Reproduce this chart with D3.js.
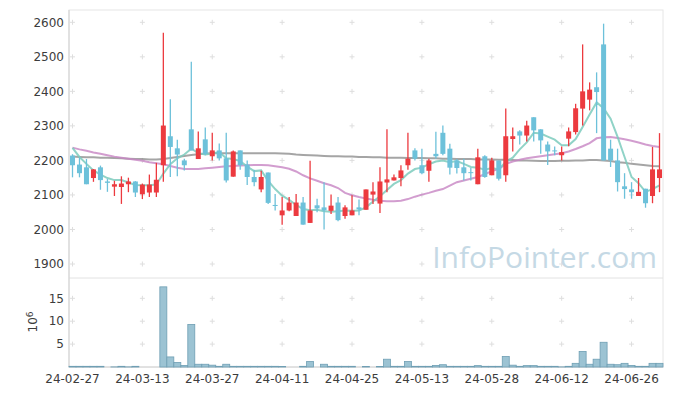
<!DOCTYPE html>
<html>
<head>
<meta charset="utf-8">
<script src="https://cdn.jsdelivr.net/npm/d3@7"></script>
<style>
body { margin: 0; background: #fff; }
text { font-family: "DejaVu Sans", sans-serif; }
</style>
</head>
<body>
<svg id="chart" width="673" height="396"></svg>
<script>
// trading days, 24-02-27 .. 24-07-02
var dates = ["24-02-27","24-02-28","24-02-29","24-03-04","24-03-05","24-03-06","24-03-07","24-03-08","24-03-11","24-03-12",
    "24-03-13","24-03-14","24-03-15","24-03-18","24-03-19","24-03-20","24-03-21","24-03-22","24-03-25","24-03-26",
    "24-03-27","24-03-28","24-03-29","24-04-01","24-04-02","24-04-03","24-04-04","24-04-05","24-04-08","24-04-09",
    "24-04-11","24-04-12","24-04-15","24-04-16","24-04-17","24-04-18","24-04-19","24-04-22","24-04-23","24-04-24",
    "24-04-25","24-04-26","24-04-29","24-04-30","24-05-02","24-05-03","24-05-07","24-05-08","24-05-09","24-05-10",
    "24-05-13","24-05-14","24-05-16","24-05-17","24-05-20","24-05-21","24-05-22","24-05-23","24-05-24","24-05-27",
    "24-05-28","24-05-29","24-05-30","24-05-31","24-06-03","24-06-04","24-06-05","24-06-07","24-06-10","24-06-11",
    "24-06-12","24-06-13","24-06-14","24-06-17","24-06-18","24-06-19","24-06-20","24-06-21","24-06-24","24-06-25",
    "24-06-26","24-06-27","24-06-28","24-07-01","24-07-02"];

var opens = [2214,2188,2180,2149,2180,2139,2124,2123,2131,2139, 2102,2107,2107,2186,2270,2235,2200,2290,2204,2261,
    2212,2229,2206,2153,2229,2188,2152,2116,2165,2071, 2041,2055,2039,2078,2019,2070,2064,2054,2078,2039,
    2041,2064,2057,2101,2075,2136,2142,2149,2186,2229, 2186,2170,2219,2280,2234,2200,2180,2166,2131,2212,
    2157,2200,2157,2262,2284,2272,2325,2290,2246,2229, 2215,2263,2282,2350,2376,2412,2536,2234,2200,2125,
    2116,2097,2118,2097,2149];
var highs = [2218,2208,2204,2175,2185,2146,2141,2154,2150,2140, 2133,2159,2193,2570,2377,2260,2205,2486,2284,2295,
    2280,2249,2280,2229,2229,2200,2173,2170,2165,2103, 2094,2094,2103,2094,2199,2089,2137,2101,2094,2070,
    2099,2087,2116,2137,2180,2290,2159,2186,2280,2235, 2234,2205,2283,2301,2248,2204,2205,2178,2234,2215,
    2208,2200,2350,2295,2287,2315,2325,2290,2255,2240, 2240,2295,2364,2536,2426,2455,2596,2260,2234,2163,
    2137,2149,2118,2239,2279];
var lows = [2151,2151,2131,2138,2115,2109,2097,2074,2108,2094, 2088,2094,2094,2138,2152,2154,2171,2229,2204,2215,
    2200,2200,2136,2153,2173,2129,2125,2108,2074,2055, 2014,2053,2039,2014,2019,2050,2000,2045,2024,2031,
    2041,2041,2057,2074,2048,2108,2142,2125,2173,2200, 2160,2138,2205,2215,2159,2162,2142,2142,2131,2150,
    2157,2142,2138,2226,2246,2255,2255,2219,2187,2215, 2200,2241,2275,2301,2345,2279,2200,2181,2110,2089,
    2089,2097,2063,2076,2108];
var closes = [2186,2163,2131,2174,2143,2135,2131,2133,2139,2107, 2130,2130,2144,2301,2239,2217,2186,2229,2235,2219,
    2229,2206,2142,2226,2186,2152,2137,2152,2077,2068, 2055,2078,2078,2014,2055,2061,2055,2069,2027,2064,
    2055,2058,2116,2110,2139,2145,2151,2171,2205,2205, 2163,2200,2212,2219,2179,2178,2163,2164,2209,2152,
    2200,2147,2270,2270,2272,2301,2287,2258,2226,2227, 2224,2284,2351,2400,2405,2398,2200,2200,2137,2117,
    2108,2109,2076,2174,2174];

// volume, millions of shares
var volumes = [0.15,0.15,0.15,0.15,0.15,0,0.02,0.15,0.02,0.15, 0,0,0,17.5,2.2,1.0,0.35,9.3,0.6,0.6,
    0.4,0.15,0.6,0.15,0.15,0.15,0.15,0.15,0.15,0.15, 0.1,0,0,0.15,1.2,0,0.6,0.15,0.15,0.15,
    0.15,0,0.1,0,0.1,1.7,0.15,0.15,1.2,0.15, 0.15,0.15,0.35,0.5,0.15,0.15,0.15,0.15,0.3,0.15,
    0.15,0.15,2.3,0.4,0.15,0.3,0.3,0.15,0.15,0.15, 0.02,0.15,0.8,3.4,0.6,1.7,5.4,0.6,0.5,0.8,
    0.35,0.15,0.15,0.8,0.8];

// moving averages
var ma5 = [2236,2210,2190,2171,2159,2149,2143,2143,2136,2129, 2128,2128,2130,2162,2189,2206,2217,2234,2221,2217,
    2220,2224,2206,2204,2198,2182,2169,2171,2141,2117, 2098,2086,2071,2059,2056,2057,2053,2051,2053,2055,
    2054,2055,2064,2081,2096,2114,2132,2143,2162,2175, 2179,2189,2197,2200,2195,2198,2190,2181,2179,2173,
    2178,2174,2196,2208,2232,2252,2280,2278,2269,2260, 2244,2244,2262,2297,2333,2368,2351,2321,2268,2210,
    2152,2134,2109,2117,2128];
var ma20 = [2237,2232,2228,2223,2219,2215,2211,2208,2205,2202, 2199,2195,2192,2189,2184,2179,2175,2175,2175,2177,
    2179,2181,2183,2184,2185,2186,2187,2187,2186,2183, 2180,2176,2168,2157,2148,2141,2134,2128,2120,2106,
    2099,2094,2090,2086,2083,2082,2082,2083,2088,2095, 2101,2106,2112,2117,2127,2137,2142,2147,2152,2160,
    2169,2175,2190,2197,2202,2206,2209,2212,2215,2218, 2221,2226,2233,2241,2250,2264,2267,2268,2265,2261,
    2257,2252,2246,2242,2239];
var ma60 = [2211,2210,2209,2209,2208,2208,2207,2206,2205,2204, 2204,2203,2203,2204,2207,2210,2213,2216,2218,2220,
    2221,2221,2221,2221,2221,2221,2221,2221,2221,2221, 2220,2219,2217,2216,2215,2214,2213,2212,2212,2211,
    2211,2210,2210,2209,2209,2208,2208,2208,2207,2207, 2207,2206,2206,2205,2205,2204,2204,2204,2203,2203,
    2203,2202,2202,2201,2200,2200,2199,2198,2198,2198, 2199,2199,2200,2200,2201,2201,2200,2198,2195,2193,
    2190,2188,2186,2184,2183];

var tickDates = ["24-02-27","24-03-13","24-03-27","24-04-11","24-04-25","24-05-13","24-05-28","24-06-12","24-06-26"];
var priceTicks = [1900,2000,2100,2200,2300,2400,2500,2600];
var volumeTicks = [5,10,15];

var svg = d3.select("#chart");
var left = 69, right = 663,
    mainTop = 10, mainBottom = 278,
    volTop = 278, volBottom = 367;

var x = d3.scaleBand().domain(dates).range([left, right]).padding(0);
var bw = x.bandwidth();
function cx(i) { return x(dates[i]) + bw / 2; }

var y = d3.scaleLinear().domain([1900, 2600]).range([264, 22.3]);
var yv = d3.scaleLinear().domain([0, 15]).range([volBottom, 298.3]);

var upColor = "#ec3a3f", downColor = "#6dc1da";

// frame
svg.append("rect").attr("x", left).attr("y", mainTop)
    .attr("width", right - left).attr("height", volBottom - mainTop)
    .attr("fill", "none").attr("stroke", "#e6e6e6");
svg.append("line").attr("x1", left).attr("x2", right).attr("y1", volTop).attr("y2", volTop)
    .attr("stroke", "#e2e2e2");
svg.append("line").attr("x1", left).attr("x2", left).attr("y1", mainTop).attr("y2", volBottom)
    .attr("stroke", "#d0d0d0");
svg.append("line").attr("x1", left).attr("x2", right).attr("y1", volBottom).attr("y2", volBottom)
    .attr("stroke", "#d0d0d0");

// grid crosses
var gx = tickDates.map(function(d) { return x(d) + bw / 2; });
var crosses = [];
gx.forEach(function(px) {
    priceTicks.forEach(function(p) { crosses.push([px, y(p)]); });
    volumeTicks.forEach(function(v) { crosses.push([px, yv(v)]); });
});
svg.append("g").selectAll("path").data(crosses).enter().append("path")
    .attr("d", function(d) { return "M" + (d[0] - 2.5) + "," + d[1] + "h5M" + d[0] + "," + (d[1] - 2.5) + "v5"; })
    .attr("stroke", "#dedede").attr("stroke-width", 1);

// watermark
svg.append("text").attr("x", 657).attr("y", 268).attr("text-anchor", "end")
    .style("font-family", "'Open Sans', sans-serif").style("font-size", "30px")
    .attr("fill", "#c5d9e5").text("InfoPointer.com");

// moving average lines
var line = function(arr) {
    return d3.line().x(function(d, i) { return cx(i); }).y(function(d) { return y(d); })(arr);
};
svg.append("path").attr("d", line(ma60)).attr("fill", "none")
    .attr("stroke", "#8f8f8f").attr("stroke-width", 2).attr("stroke-opacity", 0.8);
svg.append("path").attr("d", line(ma20)).attr("fill", "none")
    .attr("stroke", "#c784c3").attr("stroke-width", 2).attr("stroke-opacity", 0.8);
svg.append("path").attr("d", line(ma5)).attr("fill", "none")
    .attr("stroke", "#7ccbbd").attr("stroke-width", 2).attr("stroke-opacity", 0.85);

// candles
var candles = dates.map(function(d, i) {
    return { date: d, o: opens[i], h: highs[i], l: lows[i], c: closes[i], v: volumes[i] };
});
var cg = svg.append("g").selectAll("g").data(candles).enter().append("g");
cg.append("line")
    .attr("x1", function(d, i) { return cx(i); })
    .attr("x2", function(d, i) { return cx(i); })
    .attr("y1", function(d) { return y(d.h); })
    .attr("y2", function(d) { return y(d.l); })
    .attr("stroke", function(d) { return d.c >= d.o ? upColor : downColor; })
    .attr("stroke-width", 1.3);
cg.append("rect")
    .attr("x", function(d, i) { return cx(i) - 2.5; })
    .attr("width", 5)
    .attr("y", function(d) { return y(Math.max(d.o, d.c)); })
    .attr("height", function(d) { return Math.max(1, Math.abs(y(d.o) - y(d.c))); })
    .attr("fill", function(d) { return d.c >= d.o ? upColor : downColor; });

// volume bars
svg.append("g").selectAll("rect").data(candles).enter().append("rect")
    .attr("x", function(d) { return x(d.date); })
    .attr("width", bw)
    .attr("y", function(d) { return yv(d.v); })
    .attr("height", function(d) { return volBottom - yv(d.v); })
    .attr("fill", "#9cc3d3")
    .attr("stroke", "#6f9fb4")
    .attr("stroke-width", 0.8);

// axes text
svg.append("g").selectAll("text").data(priceTicks).enter().append("text")
    .attr("x", left - 5).attr("y", function(d) { return y(d); })
    .attr("dy", "0.35em").attr("text-anchor", "end")
    .style("font-size", "12px").attr("fill", "#3c3c3c")
    .text(function(d) { return d; });
svg.append("g").selectAll("text").data(volumeTicks).enter().append("text")
    .attr("x", left - 5).attr("y", function(d) { return yv(d); })
    .attr("dy", "0.35em").attr("text-anchor", "end")
    .style("font-size", "12px").attr("fill", "#3c3c3c")
    .text(function(d) { return d; });
svg.append("g").selectAll("text").data(tickDates).enter().append("text")
    .attr("x", function(d) { return x(d) + bw / 2; }).attr("y", 383)
    .attr("text-anchor", "middle")
    .style("font-size", "12px").attr("fill", "#3c3c3c")
    .text(function(d) { return d; });

var unit = svg.append("text").attr("transform", "translate(37,322) rotate(-90)")
    .attr("text-anchor", "middle").style("font-size", "12px").attr("fill", "#3c3c3c");
unit.append("tspan").text("10");
unit.append("tspan").attr("dy", "-0.45em").style("font-size", "9px").text("6");
</script>
</body>
</html>
